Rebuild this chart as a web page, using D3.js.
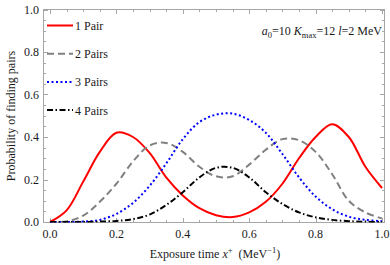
<!DOCTYPE html>
<html>
<head>
<meta charset="utf-8">
<script src="https://cdn.jsdelivr.net/npm/d3@7"></script>
<style>
  body { margin: 0; background: #fff; }
  svg text { font-family: "Liberation Serif", "Times New Roman", serif; }
  .frame { fill: none; stroke: #a6a6a6; stroke-width: 1; }
  .tick { stroke: #a6a6a6; stroke-width: 1; }
  .lbl { font-size: 12px; fill: #1a1a1a; }
</style>
</head>
<body>
<svg width="390" height="265"></svg>
<script>
// exposure time samples (MeV^-1)
const times = d3.range(0, 1.0001, 0.05).map(t => +t.toFixed(2));

// probabilities
const pair1 = [0, 0.055, 0.19, 0.33, 0.42, 0.40, 0.325, 0.21, 0.125, 0.065, 0.032,
  0.023, 0.045, 0.095, 0.18, 0.30, 0.40, 0.46, 0.40, 0.26, 0.16];
const pair2 = [0, 0.003, 0.03, 0.095, 0.18, 0.285, 0.36, 0.372, 0.33, 0.26, 0.215,
  0.215, 0.27, 0.34, 0.39, 0.385, 0.33, 0.225, 0.1, 0.045, 0.017];
const pair3 = [0, 0, 0.002, 0.01, 0.038, 0.09, 0.17, 0.275, 0.39, 0.47, 0.505,
  0.51, 0.48, 0.42, 0.32, 0.21, 0.12, 0.06, 0.025, 0.01, 0.004];
const pair4 = [0, 0, 0, 0.002, 0.005, 0.014, 0.035, 0.08, 0.14, 0.21, 0.255,
  0.255, 0.21, 0.14, 0.085, 0.045, 0.022, 0.01, 0.004, 0.001, 0];

const seriesNames = ['1 Pair', '2 Pairs', '3 Pairs', '4 Pairs'];
const seriesValues = [pair1, pair2, pair3, pair4];
const xTicks = [0, 0.2, 0.4, 0.6, 0.8, 1.0];
const yTicks = [0, 0.2, 0.4, 0.6, 0.8, 1.0];

const styles = [
  { color: '#ff0000', dash: null },
  { color: '#808080', dash: '7,4' },
  { color: '#0000ff', dash: '2,2.5' },
  { color: '#000000', dash: '6,2.5,1.5,2.5' }
];

const svg = d3.select('svg');

const x = d3.scaleLinear().domain([0, 1]).range([50, 382]);
const y = d3.scaleLinear().domain([0, 1]).range([222, 9.5]);

const fLeft = 43.5, fRight = 384.5, fTop = 9.5, fBottom = 222.5;

svg.append('defs').append('clipPath').attr('id', 'clip')
  .append('rect')
  .attr('x', fLeft).attr('y', fTop)
  .attr('width', fRight - fLeft).attr('height', fBottom - fTop);

// ticks (inward, on all four sides)
const minorX = d3.range(0, 1.0001, 0.05);
const minorY = d3.range(0, 1.0001, 0.05);
const tickG = svg.append('g');
minorX.forEach(v => {
  const major = xTicks.some(t => Math.abs(t - v) < 1e-6);
  const len = major ? 4.5 : 2.5;
  const px = Math.round(x(v)) + 0.5;
  tickG.append('line').attr('class', 'tick')
    .attr('x1', px).attr('x2', px).attr('y1', fBottom).attr('y2', fBottom - len);
  tickG.append('line').attr('class', 'tick')
    .attr('x1', px).attr('x2', px).attr('y1', fTop).attr('y2', fTop + len);
});
minorY.forEach(v => {
  const major = yTicks.some(t => Math.abs(t - v) < 1e-6);
  const len = major ? 4.5 : 2.5;
  const py = Math.round(y(v)) + 0.5;
  tickG.append('line').attr('class', 'tick')
    .attr('y1', py).attr('y2', py).attr('x1', fLeft).attr('x2', fLeft + len);
  tickG.append('line').attr('class', 'tick')
    .attr('y1', py).attr('y2', py).attr('x1', fRight).attr('x2', fRight - len);
});

svg.append('rect').attr('class', 'frame')
  .attr('x', fLeft).attr('y', fTop)
  .attr('width', fRight - fLeft).attr('height', fBottom - fTop);

// tick labels
svg.append('g').selectAll('text').data(xTicks)
  .enter().append('text')
  .attr('class', 'lbl')
  .attr('x', d => x(d))
  .attr('y', 238)
  .attr('text-anchor', 'middle')
  .text(d => d.toFixed(1));

svg.append('g').selectAll('text').data(yTicks)
  .enter().append('text')
  .attr('class', 'lbl')
  .attr('x', 39)
  .attr('y', d => y(d) + 4)
  .attr('text-anchor', 'end')
  .text(d => d.toFixed(1));

// curves
const line = d3.line()
  .x((d, i) => x(times[i]))
  .y(d => y(d))
  .curve(d3.curveCatmullRom.alpha(0.5));

const plotG = svg.append('g').attr('clip-path', 'url(#clip)');
plotG.selectAll('path').data(seriesValues)
  .enter().append('path')
  .attr('d', line)
  .attr('fill', 'none')
  .attr('stroke', (d, i) => styles[i].color)
  .attr('stroke-width', 2)
  .attr('stroke-dasharray', (d, i) => styles[i].dash);

// legend
const legendG = svg.append('g');
seriesNames.forEach((name, i) => {
  const ly = 25.5 + i * 28.2;
  legendG.append('line')
    .attr('x1', 47).attr('x2', 73).attr('y1', ly).attr('y2', ly)
    .attr('stroke', styles[i].color)
    .attr('stroke-width', 2)
    .attr('stroke-dasharray', styles[i].dash);
  legendG.append('text').attr('class', 'lbl')
    .attr('x', 75).attr('y', ly + 4.5)
    .text(name);
});

// parameter annotation
const ann = svg.append('text').attr('class', 'lbl')
  .attr('x', 382).attr('y', 35).attr('text-anchor', 'end');
ann.append('tspan').attr('font-style', 'italic').text('a');
ann.append('tspan').attr('font-size', '8.5px').attr('dy', 3).text('0');
ann.append('tspan').attr('dy', -3).text('=10 ');
ann.append('tspan').attr('font-style', 'italic').text('K');
ann.append('tspan').attr('font-size', '8.5px').attr('dy', 3).text('max');
ann.append('tspan').attr('dy', -3).text('=12 ');
ann.append('tspan').attr('font-style', 'italic').text('l');
ann.append('tspan').text('=2 MeV');

// axis titles
const xt = svg.append('text').attr('class', 'lbl')
  .attr('x', 215).attr('y', 258).attr('text-anchor', 'middle');
xt.append('tspan').text('Exposure time ');
xt.append('tspan').attr('font-style', 'italic').text('x');
xt.append('tspan').attr('font-size', '8.5px').attr('dy', -5).text('+');
xt.append('tspan').attr('dy', 5).text('\u00a0\u00a0(MeV');
xt.append('tspan').attr('font-size', '8.5px').attr('dy', -5).text('\u22121');
xt.append('tspan').attr('dy', 5).text(')');

svg.append('text').attr('class', 'lbl')
  .attr('transform', 'translate(15,116) rotate(-90)')
  .attr('text-anchor', 'middle')
  .text('Probability of finding pairs');
</script>
</body>
</html>
